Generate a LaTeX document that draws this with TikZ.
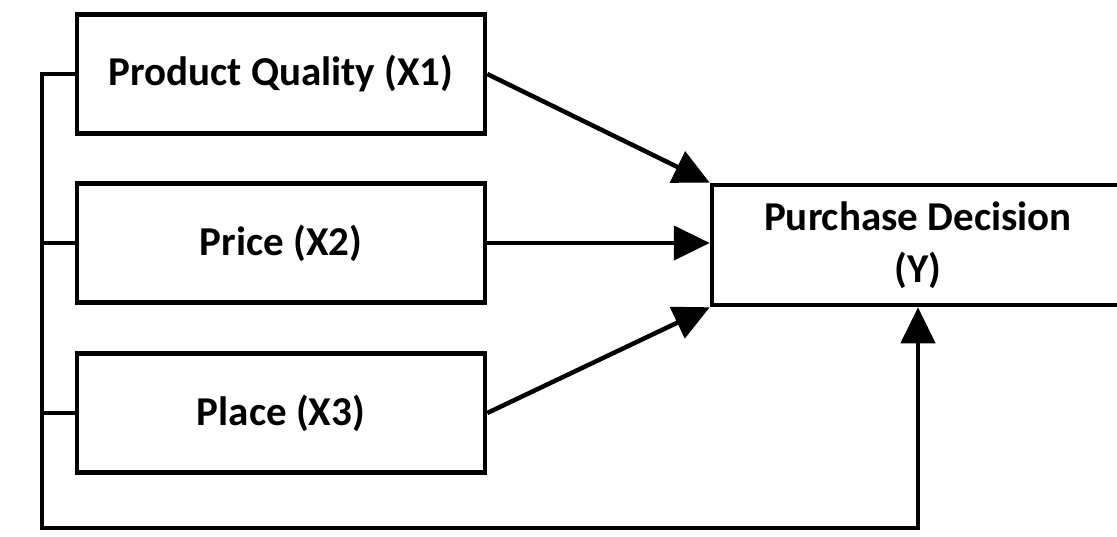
\documentclass[tikz,border=0pt]{standalone}
\usepackage{fontspec}
\setmainfont{Carlito}
\usetikzlibrary{arrows.meta}

\begin{document}
\begin{tikzpicture}[x=1pt,y=-1pt,
	box/.style={draw,line width=4.5pt,minimum width=408pt,minimum height=119pt,align=center,
		font=\fontsize{41}{52}\selectfont\bfseries},
	link/.style={line width=4.5pt},
	arr/.style={line width=4.5pt,-{Triangle[length=36pt,width=34pt]}}]
	\def\bus{42} % x of the left feedback line
	\useasboundingbox (0,0) rectangle (1117,536);
	
	\node[box] (x1) at (281,74) {Product Quality (X1)};
	\node[box] (x2) at (281,243) {Price (X2)};
	\node[box] (x3) at (281,413) {Place (X3)};
	\node[box,minimum width=412pt,minimum height=120pt] (y) at (918,245) {Purchase Decision\\(Y)};
	\coordinate (corner) at (\bus,528);
	
	\draw[arr] (x1.east) -- (y.north west);
	\draw[arr] (x2.east) -- (x2.east -| y.west);
	\draw[arr] (x3.east) -- (y.south west);
	\draw[link] (x2.west) -- (x2.west -| corner);
	\draw[link] (x3.west) -- (x3.west -| corner);
	\draw[arr] (x1.west) -| (corner) -| (y.south);
\end{tikzpicture}
\end{document}
